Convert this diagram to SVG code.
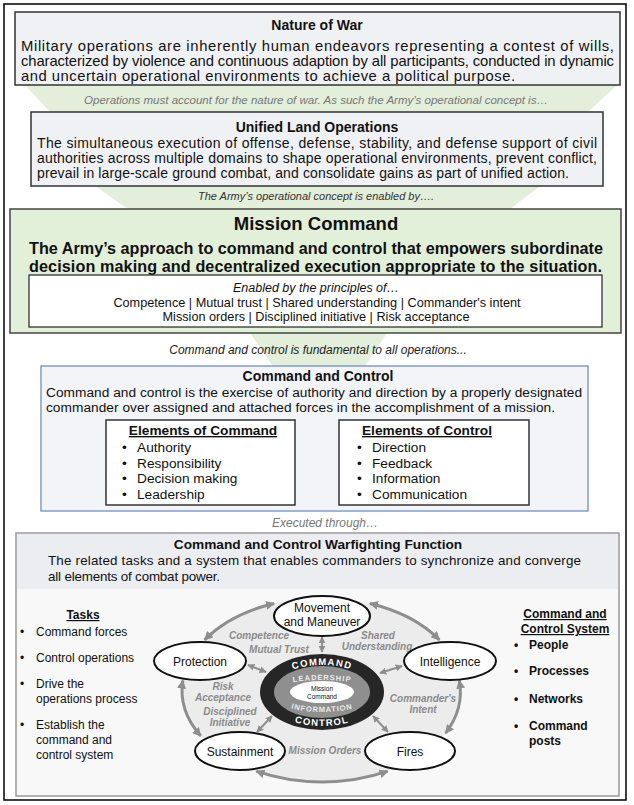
<svg xmlns="http://www.w3.org/2000/svg" width="634" height="805" viewBox="0 0 634 805">
<style>
text{font-family:"Liberation Sans",Arial,Helvetica,sans-serif;fill:#111}
.b{font-weight:bold}
.i{font-style:italic}
.c{text-anchor:middle}
.u{text-decoration:underline}
.gbox{fill:#f0f1f5;stroke:#333;stroke-width:1.5}
.funnel{fill:#e3eedb}
.node{fill:#fff;stroke:#111;stroke-width:2}
.nt{font-size:12px;text-anchor:middle}
.arc{fill:none;stroke:#8e8e8e;stroke-width:3;marker-start:url(#ah);marker-end:url(#ah)}
.spoke{fill:none;stroke:#8e8e8e;stroke-width:2;marker-start:url(#ah2);marker-end:url(#ah2)}
.lbl{font-style:italic;font-weight:bold;fill:#8a8a8a;font-size:10px;text-anchor:middle}
.ring{font-weight:bold;text-anchor:middle}
</style>
<defs>
<marker id="ah" viewBox="0 0 10 10" refX="9" refY="5" markerWidth="3" markerHeight="3" orient="auto-start-reverse"><path d="M0,0 L10,5 L0,10 z" fill="#8e8e8e"/></marker>
<marker id="ah2" viewBox="0 0 10 10" refX="9" refY="5" markerWidth="3.5" markerHeight="3.5" orient="auto-start-reverse"><path d="M0,0 L10,5 L0,10 z" fill="#8e8e8e"/></marker>
<path id="pCommand" d="M270,692 A52,27 0 0 1 374,692"/>
<path id="pLead" d="M272,692 A50,12 0 0 1 372,692"/>
<path id="pInfo" d="M267,692 A55,20 0 0 0 377,692"/>
<path id="pControl" d="M262,692 A60,34 0 0 0 382,692"/>
</defs>
<rect x="4" y="4" width="622" height="796" fill="#fff" stroke="#000" stroke-width="1.5"/>

<g id="funnels">
<polygon class="funnel" points="25,85 617,85 588,112 50,112"/>
<polygon class="funnel" points="95,186 540,186 510,209 128,209"/>
<polygon class="funnel" points="250,333 387,333 365,366 273,366"/>
</g>

<g id="nature-of-war">
<rect class="gbox" x="15" y="12" width="605" height="73"/>
<text class="b c" x="317" y="30" font-size="14">Nature of War</text>
<text x="21" y="51" font-size="14.8" textLength="593" lengthAdjust="spacing">Military operations are inherently human endeavors representing a contest of wills,</text>
<text x="21" y="66" font-size="14.8" textLength="593" lengthAdjust="spacing">characterized by violence and continuous adaption by all participants, conducted in dynamic</text>
<text x="21" y="81" font-size="14.8" textLength="494" lengthAdjust="spacing">and uncertain operational environments to achieve a political purpose.</text>
</g>

<text class="i c" x="316" y="104" font-size="11.5" style="fill:#777">Operations must account for the nature of war. As such the Army’s operational concept is…</text>

<g id="unified-land-operations">
<rect class="gbox" x="31" y="112" width="572" height="74"/>
<text class="b c" x="317" y="131.5" font-size="14">Unified Land Operations</text>
<text x="37" y="148" font-size="14" textLength="560" lengthAdjust="spacing">The simultaneous execution of offense, defense,  stability, and defense support of civil</text>
<text x="37" y="163" font-size="14" textLength="560" lengthAdjust="spacing">authorities across multiple domains to shape operational environments, prevent conflict,</text>
<text x="37" y="178" font-size="14" textLength="532" lengthAdjust="spacing">prevail in large-scale ground combat, and consolidate gains as part of unified action.</text>
</g>

<text class="i c" x="316" y="200" font-size="11" style="fill:#333">The Army’s operational concept is enabled by….</text>

<g id="mission-command">
<rect x="10" y="209" width="611" height="124" fill="#e2efd9" stroke="#444" stroke-width="1.5"/>
<text class="b c" x="316" y="230" font-size="18.5">Mission Command</text>
<text class="b" x="29" y="254" font-size="16.2" textLength="574" lengthAdjust="spacing">The Army’s approach to command and control that empowers subordinate</text>
<text class="b" x="29" y="271.5" font-size="16.2" textLength="573" lengthAdjust="spacing">decision making and decentralized execution appropriate to the situation.</text>
<rect x="29" y="275" width="573" height="52" fill="#fff" stroke="#333" stroke-width="1.3"/>
<text class="i c" x="316" y="292" font-size="12.5">Enabled by the principles of…</text>
<text class="c" x="317" y="306.5" font-size="12.7">Competence | Mutual trust | Shared understanding | Commander's intent</text>
<text class="c" x="316" y="320.5" font-size="12.7">Mission orders | Disciplined initiative | Risk acceptance</text>
</g>

<text class="i c" x="318" y="354" font-size="12" style="fill:#222">Command and control is fundamental to all operations...</text>

<g id="command-and-control">
<rect x="41" y="366" width="547" height="145" fill="#f2f4f8" stroke="#6f8fc0" stroke-width="1.3"/>
<text class="b c" x="318" y="380.5" font-size="14">Command and Control</text>
<text x="46" y="396.5" font-size="13.7" textLength="536" lengthAdjust="spacing">Command and control is the exercise of authority and direction by a properly designated</text>
<text x="46" y="411.5" font-size="13.7" textLength="509" lengthAdjust="spacing">commander over assigned and attached forces in the accomplishment of a mission.</text>
</g>

<g id="elements-of-command">
<rect x="106" y="420" width="189" height="85" fill="#fff" stroke="#333" stroke-width="1.5"/>
<text class="b u c" x="203" y="435" font-size="13.7">Elements of Command</text>
<text x="122" y="452" font-size="13.7">•</text><text x="137" y="452" font-size="13.7">Authority</text>
<text x="122" y="467.5" font-size="13.7">•</text><text x="137" y="467.5" font-size="13.7">Responsibility</text>
<text x="122" y="483" font-size="13.7">•</text><text x="137" y="483" font-size="13.7">Decision making</text>
<text x="122" y="499" font-size="13.7">•</text><text x="137" y="499" font-size="13.7">Leadership</text>
</g>

<g id="elements-of-control">
<rect x="339" y="420" width="190" height="85" fill="#fff" stroke="#333" stroke-width="1.5"/>
<text class="b u c" x="427" y="435" font-size="13.7">Elements of Control</text>
<text x="357" y="452" font-size="13.7">•</text><text x="372" y="452" font-size="13.7">Direction</text>
<text x="357" y="467.5" font-size="13.7">•</text><text x="372" y="467.5" font-size="13.7">Feedback</text>
<text x="357" y="483" font-size="13.7">•</text><text x="372" y="483" font-size="13.7">Information</text>
<text x="357" y="499" font-size="13.7">•</text><text x="372" y="499" font-size="13.7">Communication</text>
</g>

<text class="i c" x="325" y="527" font-size="12" style="fill:#777">Executed through…</text>

<g id="c2-warfighting-function">
<rect x="16" y="533" width="603" height="263" fill="#f8f8f8" stroke="#999" stroke-width="1.5"/>
<rect x="17" y="534" width="601" height="55" fill="#ecedf1"/>
<text class="b c" x="318" y="548.5" font-size="13.7">Command and Control Warfighting Function</text>
<text x="48" y="565" font-size="13.4" textLength="533" lengthAdjust="spacing">The related tasks and a system that enables commanders to synchronize and converge</text>
<text x="48" y="581" font-size="13.4" textLength="172" lengthAdjust="spacing">all elements of combat power.</text>
</g>

<g id="tasks">
<text class="b u c" x="83" y="619" font-size="12">Tasks</text>
<text x="20" y="636" font-size="12">•</text><text x="36" y="636" font-size="12">Command forces</text>
<text x="20" y="662" font-size="12">•</text><text x="36" y="662" font-size="12">Control operations</text>
<text x="20" y="688" font-size="12">•</text><text x="36" y="688" font-size="12">Drive the</text>
<text x="36" y="703" font-size="12">operations process</text>
<text x="20" y="729" font-size="12">•</text><text x="36" y="729" font-size="12">Establish the</text>
<text x="36" y="744" font-size="12">command and</text>
<text x="36" y="759" font-size="12">control system</text>
</g>

<g id="c2-system">
<text class="b u c" x="565" y="618" font-size="12">Command and</text>
<text class="b u c" x="565" y="633" font-size="12">Control System</text>
<text class="b" x="514" y="649" font-size="12">•</text><text class="b" x="529" y="649" font-size="12">People</text>
<text class="b" x="514" y="675" font-size="12">•</text><text class="b" x="529" y="675" font-size="12">Processes</text>
<text class="b" x="514" y="703" font-size="12">•</text><text class="b" x="529" y="703" font-size="12">Networks</text>
<text class="b" x="514" y="730" font-size="12">•</text><text class="b" x="529" y="730" font-size="12">Command</text>
<text class="b" x="529" y="745" font-size="12">posts</text>
</g>

<ellipse id="wheel-field" cx="322" cy="690" rx="140" ry="92" fill="#ececec"/>

<g id="connectors">
<path class="arc" d="M204.6,639.9 A140,92 0 0 1 274.1,603.5"/>
<path class="arc" d="M369.9,603.5 A140,92 0 0 1 439.4,639.9"/>
<path class="arc" d="M459.2,680.4 A140,92 0 0 1 445.6,733.2"/>
<path class="arc" d="M387.7,771.2 A140,92 0 0 1 256.3,771.2"/>
<path class="arc" d="M200.8,736 A140,92 0 0 1 182.8,680.4"/>
<path class="spoke" d="M322,637 L322,652"/>
<path class="spoke" d="M248,665 L266,672"/>
<path class="spoke" d="M402,666 L380,673"/>
<path class="spoke" d="M257,732 L272,716"/>
<path class="spoke" d="M388,732 L373,716"/>
</g>

<g id="principle-labels">
<text class="lbl" x="259" y="639">Competence</text>
<text class="lbl" x="279" y="653">Mutual Trust</text>
<text class="lbl" x="378" y="639">Shared</text>
<text class="lbl" x="377" y="650">Understanding</text>
<text class="lbl" x="223" y="690">Risk</text>
<text class="lbl" x="223" y="701">Acceptance</text>
<text class="lbl" x="230" y="715">Disciplined</text>
<text class="lbl" x="230" y="726">Initiative</text>
<text class="lbl" x="423" y="702">Commander's</text>
<text class="lbl" x="423" y="713">Intent</text>
<text class="lbl" x="325" y="754">Mission Orders</text>
</g>

<g id="movement-and-maneuver">
<ellipse class="node" cx="322" cy="616" rx="48" ry="20"/>
<text class="nt" x="322" y="612">Movement</text>
<text class="nt" x="322" y="626">and Maneuver</text>
</g>
<g id="protection">
<ellipse class="node" cx="200" cy="661" rx="46" ry="19"/>
<text class="nt" x="200" y="665.5">Protection</text>
</g>
<g id="intelligence">
<ellipse class="node" cx="450" cy="661" rx="46" ry="19"/>
<text class="nt" x="450" y="665.5">Intelligence</text>
</g>
<g id="sustainment">
<ellipse class="node" cx="240" cy="751" rx="45" ry="19"/>
<text class="nt" x="240" y="755.5">Sustainment</text>
</g>
<g id="fires">
<ellipse class="node" cx="410" cy="751" rx="45" ry="19"/>
<text class="nt" x="410" y="755.5">Fires</text>
</g>

<g id="mission-command-core">
<ellipse cx="322" cy="692" rx="62" ry="38" fill="#262626"/>
<ellipse cx="322" cy="692" rx="48" ry="26" fill="#8f8f8f"/>
<ellipse cx="322" cy="692" rx="32" ry="11" fill="#fff"/>
<text class="ring" font-size="9.5" letter-spacing="1.2" style="fill:#fff"><textPath href="#pCommand" startOffset="50%">COMMAND</textPath></text>
<text class="ring" font-size="7.5" letter-spacing="0.9" style="fill:#ececec"><textPath href="#pLead" startOffset="50%">LEADERSHIP</textPath></text>
<text class="ring" font-size="7.5" letter-spacing="0.9" style="fill:#ececec"><textPath href="#pInfo" startOffset="50%">INFORMATION</textPath></text>
<text class="ring" font-size="9.5" letter-spacing="1.2" style="fill:#fff"><textPath href="#pControl" startOffset="50%">CONTROL</textPath></text>
<text class="c" x="322" y="691" font-size="6.5">Mission</text>
<text class="c" x="322" y="699" font-size="6.5">Command</text>
</g>
</svg>
